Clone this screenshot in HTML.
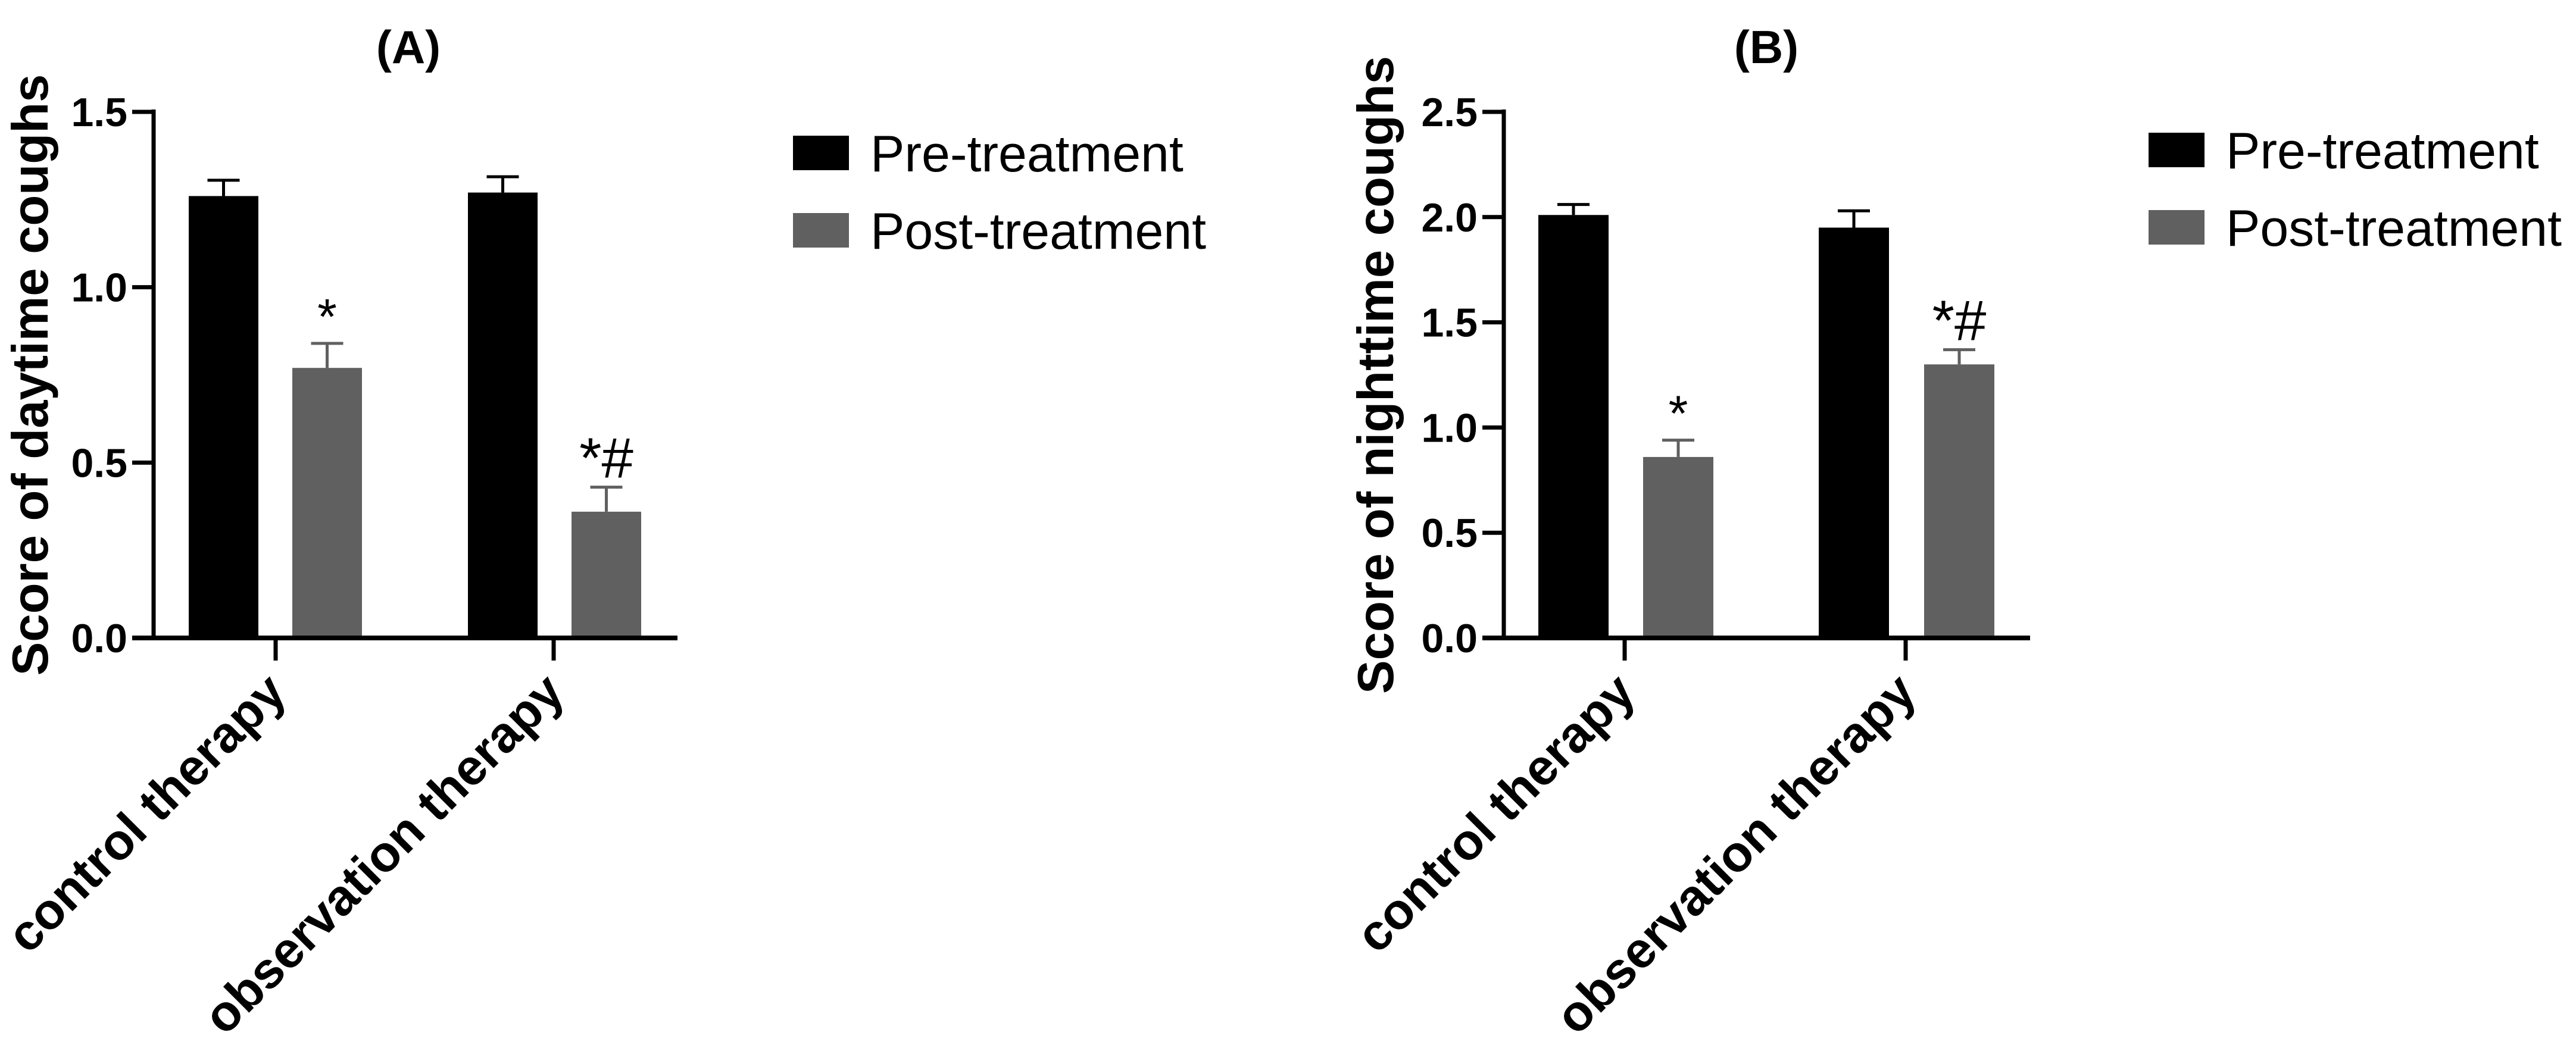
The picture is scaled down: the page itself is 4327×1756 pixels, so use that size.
<!DOCTYPE html>
<html><head><meta charset="utf-8"><style>
html,body{margin:0;padding:0;background:#fff;}
svg{display:block;font-family:"Liberation Sans",Arial,sans-serif;}
</style></head><body>
<svg id="chart" width="4327" height="1756" viewBox="0 0 4327 1756" xmlns="http://www.w3.org/2000/svg"></svg>
<script>
const categories = ["control therapy", "observation therapy"];
const seriesNames = ["Pre-treatment", "Post-treatment"];
const daytimePre = [1.26, 1.27];
const daytimePreErr = [0.045, 0.045];
const daytimePost = [0.77, 0.36];
const daytimePostErr = [0.07, 0.07];
const daytimeMarks = ["*", "*#"];
const daytimeTicks = ["0.0", "0.5", "1.0", "1.5"];
const nightPre = [2.01, 1.95];
const nightPreErr = [0.05, 0.08];
const nightPost = [0.86, 1.30];
const nightPostErr = [0.08, 0.07];
const nightMarks = ["*", "*#"];
const nightTicks = ["0.0", "0.5", "1.0", "1.5", "2.0", "2.5"];

const NS = "http://www.w3.org/2000/svg";
const svg = document.getElementById("chart");
function mk(tag, attrs, parent) {
  const e = document.createElementNS(NS, tag);
  for (const k in attrs) e.setAttribute(k, attrs[k]);
  (parent || svg).appendChild(e);
  return e;
}

function panel(cfg) {
  const g = mk("g", {});
  
  
  const y0 = 1072, yTop = 188;
  const maxV = parseFloat(cfg.ticks[cfg.ticks.length - 1]);
  const yS = v => y0 - (y0 - yTop) * v / maxV;
  const bw = cfg.barW;
  for (let i = 0; i < categories.length; i++) {
    [[cfg.pre, cfg.preErr, "#000", cfg.preX[i], 0], [cfg.post, cfg.postErr, "#606060", cfg.postX[i], 1]].forEach(([vals, errs, col, x, s]) => {
      const yv = yS(vals[i]);
      const ye = yS(vals[i] + errs[i]);
      const cx = x + bw / 2;
      const el = mk("line", {x1: cx, x2: cx, y1: yv, y2: ye, stroke: col, "stroke-width": 5}, g);
      
      
      const cap = mk("line", {x1: cx - 27, x2: cx + 27, y1: ye, y2: ye, stroke: col, "stroke-width": 5}, g);
      
      
      const r = mk("rect", {x: x, y: yv, width: bw, height: y0 - yv, fill: col}, g);
      
      
      if (s === 1) {
        const t = mk("text", {x: cx, y: ye - 16, "text-anchor": "middle", "font-size": cfg.marks[i].length > 1 ? 96 : 84}, g);
        t.textContent = cfg.marks[i];
        
        
      }
    });
  }
  const ya = mk("line", {x1: cfg.axisX, x2: cfg.axisX, y1: yTop - 4, y2: y0 + 4, stroke: "#000", "stroke-width": 7}, g);
  
  
  const xa = mk("line", {x1: cfg.axisX - 36, x2: cfg.xEnd, y1: y0, y2: y0, stroke: "#000", "stroke-width": 8}, g);
  
  
  cfg.ticks.forEach(tk => {
    const y = yS(parseFloat(tk));
    const l = mk("line", {x1: cfg.axisX - 36, x2: cfg.axisX, y1: y, y2: y, stroke: "#000", "stroke-width": 7}, g);
    
    
    const t = mk("text", {x: cfg.axisX - 44, y: y + 24, "text-anchor": "end", "font-size": 68, "font-weight": "bold"}, g);
    t.textContent = tk;
    
    
  });
  categories.forEach((c, i) => {
    const x = cfg.tickX[i];
    const ax = x + 22, ay = y0 + 96;
    const l = mk("line", {x1: x, x2: x, y1: y0, y2: y0 + 38, stroke: "#000", "stroke-width": 7}, g);
    
    
    const t = mk("text", {x: ax, y: ay, "text-anchor": "end", "font-size": 85, "font-weight": "bold", transform: "rotate(-45 " + ax + " " + ay + ")"}, g);
    t.textContent = c;
    
    
  });
  const yt = mk("text", {x: cfg.ytX, y: 630, "text-anchor": "middle", "font-size": 85, "font-weight": "bold", transform: "rotate(-90 " + cfg.ytX + " 630)"}, g);
  yt.textContent = cfg.ytitle;
  
  
  const tt = mk("text", {x: cfg.titleX, y: 106, "text-anchor": "middle", "font-size": 78, "font-weight": "bold"}, g);
  tt.textContent = cfg.title;
  
  
  seriesNames.forEach((n, i) => {
    const top = cfg.legY[i];
    const r = mk("rect", {x: cfg.legX, y: top, width: 94, height: 58, fill: i ? "#606060" : "#000"}, g);
    
    
    const t = mk("text", {x: cfg.legX + 130, y: top + 60, "font-size": 86}, g);
    t.textContent = n;
    
    
  });
}

panel({name: "panel-a-daytime", pre: daytimePre, preErr: daytimePreErr, post: daytimePost, postErr: daytimePostErr,
  marks: daytimeMarks, ticks: daytimeTicks, axisX: 258, xEnd: 1138, barW: 117,
  preX: [317, 786], postX: [491, 960], tickX: [463, 930], ytX: 80, ytitle: "Score of daytime coughs",
  title: "(A)", titleX: 686, legX: 1332, legY: [228, 358]});
panel({name: "panel-b-nighttime", pre: nightPre, preErr: nightPreErr, post: nightPost, postErr: nightPostErr,
  marks: nightMarks, ticks: nightTicks, axisX: 2526, xEnd: 3410, barW: 118,
  preX: [2584, 3055], postX: [2760, 3232], tickX: [2729, 3201], ytX: 2340, ytitle: "Score of nighttime coughs",
  title: "(B)", titleX: 2967, legX: 3609, legY: [223, 353]});
</script>
</body></html>
